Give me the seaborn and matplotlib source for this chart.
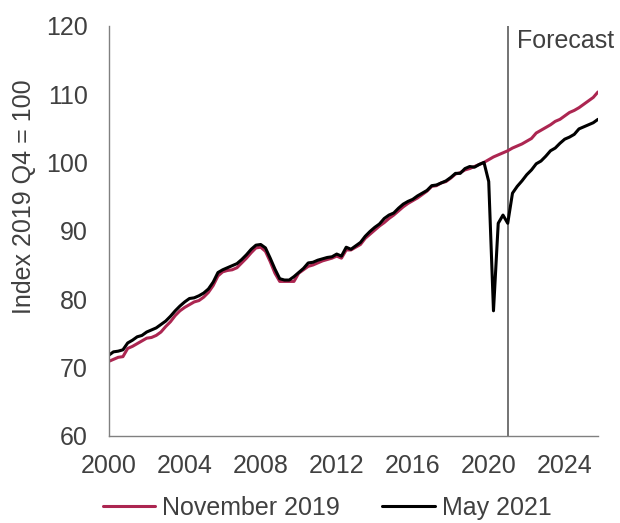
import numpy as np
import pandas as pd
import seaborn as sns
import matplotlib.pyplot as plt

# quarterly, 2000Q1 .. 2025Q4 (index 2019 Q4 = 100)
quarters = [f'{y}Q{q}' for y in range(2000, 2026) for q in range(1, 5)]

november_2019 = [
    70.9, 71.2, 71.5, 71.6,   # 2000
    72.8, 73.1, 73.5, 73.9,   # 2001
    74.3, 74.4, 74.7, 75.2,   # 2002
    76.0, 76.7, 77.6, 78.3,   # 2003
    78.8, 79.2, 79.6, 79.8,   # 2004
    80.3, 81.0, 82.0, 83.4,   # 2005
    84.0, 84.2, 84.3, 84.6,   # 2006
    85.3, 86.0, 86.8, 87.5,   # 2007
    87.6, 87.0, 85.5, 83.8,   # 2008
    82.6, 82.6, 82.6, 82.6,   # 2009
    83.8, 84.3, 84.8, 85.0,   # 2010
    85.3, 85.6, 85.8, 86.0,   # 2011
    86.3, 86.0, 87.2, 87.2,   # 2012
    87.6, 88.0, 88.9, 89.5,   # 2013
    90.1, 90.7, 91.2, 91.8,   # 2014
    92.3, 92.9, 93.5, 94.0,   # 2015
    94.4, 94.8, 95.3, 95.8,   # 2016
    96.5, 96.6, 97.0, 97.2,   # 2017
    97.7, 98.3, 98.5, 98.9,   # 2018
    99.1, 99.4, 99.7, 100.0,  # 2019
    100.4, 100.8, 101.1, 101.4,  # 2020
    101.7, 102.1, 102.4, 102.7,  # 2021
    103.1, 103.5, 104.3, 104.7,  # 2022
    105.1, 105.5, 106.0, 106.3,  # 2023
    106.8, 107.3, 107.6, 108.0,  # 2024
    108.5, 109.0, 109.5, 110.3,  # 2025
]

may_2021 = [
    71.8, 72.3, 72.4, 72.6,   # 2000
    73.6, 74.0, 74.5, 74.7,   # 2001
    75.2, 75.5, 75.8, 76.3,   # 2002
    76.8, 77.5, 78.3, 79.0,   # 2003
    79.6, 80.1, 80.2, 80.5,   # 2004
    80.9, 81.5, 82.5, 83.9,   # 2005
    84.3, 84.6, 84.9, 85.2,   # 2006
    85.8, 86.5, 87.3, 87.9,   # 2007
    88.0, 87.5, 86.0, 84.4,   # 2008
    83.0, 82.8, 82.8, 83.3,   # 2009
    83.9, 84.5, 85.3, 85.4,   # 2010
    85.7, 85.9, 86.1, 86.2,   # 2011
    86.6, 86.3, 87.6, 87.3,   # 2012
    87.8, 88.3, 89.2, 89.9,   # 2013
    90.5, 91.0, 91.8, 92.3,   # 2014
    92.6, 93.3, 93.9, 94.3,   # 2015
    94.6, 95.1, 95.5, 95.9,   # 2016
    96.6, 96.7, 97.0, 97.3,   # 2017
    97.8, 98.4, 98.4, 99.1,   # 2018
    99.4, 99.3, 99.7, 100.0,  # 2019
    97.2, 78.3, 91.1, 92.3,   # 2020
    91.1, 95.5, 96.5, 97.3,   # 2021
    98.2, 98.9, 99.8, 100.2,  # 2022
    100.9, 101.7, 102.1, 102.8,  # 2023
    103.4, 103.7, 104.1, 104.9,  # 2024
    105.2, 105.5, 105.8, 106.3,  # 2025
]

series_names = ['November 2019', 'May 2021']
colors = ['#AC2651', '#000000']

# quarter -> decimal year for the time axis
t = [int(q[:4]) + (int(q[-1]) - 1) / 4 for q in quarters]
df = pd.DataFrame({
    'time': t * 2,
    'value': november_2019 + may_2021,
    'vintage': [series_names[0]] * len(t) + [series_names[1]] * len(t),
})

sns.set_style('white')
plt.rcParams['font.family'] = ['Liberation Sans', 'DejaVu Sans']
plt.rcParams['font.size'] = 18
grey_txt = '#404040'

fig = plt.figure(figsize=(6.2, 5.23), dpi=100)
ax = fig.add_axes([0.1753, 0.1664, 0.7892, 0.7846])

sns.lineplot(data=df, x='time', y='value', hue='vintage', palette=colors,
             linewidth=2.2, ax=ax, legend=False)

ax.axvline(2021.0, color='#4d4d4d', lw=1.1, zorder=0)
ax.text(2021.5, 117.8, 'Forecast', va='center', ha='left', color=grey_txt, fontsize=18)

ax.set_xlim(2000, 2025.75)
ax.set_ylim(60, 120)
ax.set_xticks(range(2000, 2025, 4))
ax.set_yticks(range(60, 121, 10))
ax.set_xlabel('')
ax.set_ylabel('Index 2019 Q4 = 100', color=grey_txt, fontsize=18)
ax.yaxis.set_label_coords(-0.148, 0.583)

for s in ['top', 'right']:
    ax.spines[s].set_visible(False)
for s in ['left', 'bottom']:
    ax.spines[s].set_color('#808080')
    ax.spines[s].set_linewidth(1)
ax.tick_params(axis='y', direction='in', length=6, width=1, color='#808080',
               pad=15, labelcolor=grey_txt, labelsize=18)
ax.tick_params(axis='x', direction='out', length=6, width=1, color='#808080',
               pad=7, labelcolor=grey_txt, labelsize=18)

handles = [plt.Line2D([], [], color=c, lw=2.2) for c in colors]
fig.legend(handles, series_names, loc='center', bbox_to_anchor=(327 / 620, 1 - 508 / 523),
           ncol=2, frameon=False, fontsize=18, handlelength=2.1, handletextpad=0.28,
           columnspacing=1.7, borderpad=0, labelcolor=grey_txt)

fig.savefig('out.png', dpi=100)
